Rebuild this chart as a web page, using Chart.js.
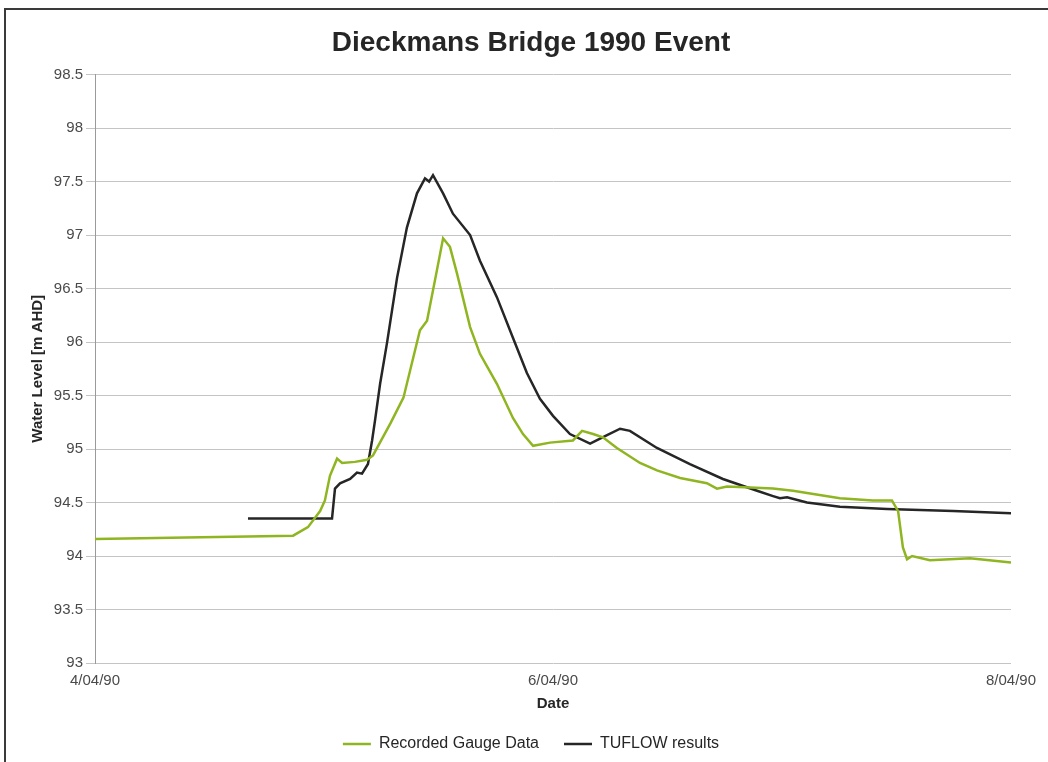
<!DOCTYPE html>
<html>
<head>
<meta charset="utf-8">
<title>Dieckmans Bridge 1990 Event</title>
<script src="https://cdn.jsdelivr.net/npm/chart.js@4/dist/chart.umd.min.js"></script>
<style>
  html, body { margin: 0; padding: 0; background: #fff; }
  #wrap { position: relative; width: 1048px; height: 762px; overflow: hidden; }
  #frame {
    position: absolute; left: 4px; top: 8px; right: -10px; bottom: -10px;
    border-left: 2px solid #3a3a3a; border-top: 2px solid #3a3a3a;
  }
  #level-chart { position: absolute; left: 0; top: 0; }
</style>
</head>
<body>
<div id="wrap">
  <div id="frame"></div>
  <canvas id="level-chart" width="1048" height="762"></canvas>
</div>
<script>
// x values are days after 4/04/90 00:00, y values are water level in m AHD
var gaugeDays = [0, 0.865, 0.930, 0.983, 1.004, 1.026, 1.057, 1.079, 1.135, 1.188, 1.214,
  1.290, 1.347, 1.419, 1.450, 1.493, 1.520, 1.550, 1.581, 1.638, 1.681, 1.755, 1.825, 1.869,
  1.913, 1.987, 2.087, 2.127, 2.175, 2.218, 2.279, 2.380, 2.454, 2.555, 2.672, 2.716, 2.760,
  2.961, 3.048, 3.253, 3.397, 3.480, 3.507, 3.528, 3.546, 3.568, 3.646, 3.821, 4.0];
var gaugeLevel = [94.16, 94.19, 94.27, 94.42, 94.52, 94.75, 94.91, 94.87, 94.88, 94.90, 94.94,
  95.24, 95.48, 96.11, 96.20, 96.67, 96.97, 96.89, 96.64, 96.14, 95.89, 95.61, 95.29, 95.14,
  95.03, 95.06, 95.08, 95.17, 95.14, 95.11, 95.01, 94.87, 94.80, 94.73, 94.68, 94.63, 94.65,
  94.63, 94.61, 94.54, 94.52, 94.52, 94.42, 94.08, 93.97, 94.00, 93.96, 93.98, 93.94];

var tuflowDays = [0.668, 1.035, 1.048, 1.070, 1.114, 1.144, 1.166, 1.192, 1.210, 1.223,
  1.245, 1.275, 1.319, 1.362, 1.406, 1.441, 1.459, 1.476, 1.520, 1.563, 1.638, 1.681,
  1.755, 1.825, 1.886, 1.943, 2.000, 2.074, 2.162, 2.236, 2.293, 2.336, 2.454, 2.598,
  2.742, 2.891, 2.961, 2.991, 3.022, 3.109, 3.253, 3.459, 3.747, 4.0];
var tuflowLevel = [94.35, 94.35, 94.63, 94.68, 94.72, 94.78, 94.77, 94.86, 95.08, 95.27,
  95.61, 95.99, 96.60, 97.07, 97.39, 97.53, 97.50, 97.56, 97.39, 97.20, 97.00, 96.76,
  96.42, 96.04, 95.71, 95.47, 95.31, 95.14, 95.05, 95.13, 95.19, 95.17, 95.01, 94.86,
  94.72, 94.61, 94.56, 94.54, 94.55, 94.50, 94.46, 94.44, 94.42, 94.40];

var dateTicks = [0, 2, 4];
var dateLabels = ['4/04/90', '6/04/90', '8/04/90'];

function toPoints(xs, ys) {
  var pts = [];
  for (var i = 0; i < xs.length; i++) {
    pts.push({ x: xs[i], y: ys[i] });
  }
  return pts;
}

Chart.defaults.font.family = '"Liberation Sans", Arial, sans-serif';
Chart.defaults.color = '#4a4a4a';

var ctx = document.getElementById('level-chart').getContext('2d');
var chart = new Chart(ctx, {
  type: 'line',
  data: {
    datasets: [
      {
        label: 'Recorded Gauge Data',
        data: toPoints(gaugeDays, gaugeLevel),
        borderColor: '#8fb521',
        backgroundColor: '#8fb521',
        borderWidth: 2.5,
        pointRadius: 0,
        tension: 0
      },
      {
        label: 'TUFLOW results',
        data: toPoints(tuflowDays, tuflowLevel),
        borderColor: '#262626',
        backgroundColor: '#262626',
        borderWidth: 2.5,
        pointRadius: 0,
        tension: 0
      }
    ]
  },
  options: {
    responsive: false,
    animation: false,
    layout: { padding: { left: 26, right: 12, top: 0, bottom: 0 } },
    plugins: {
      title: {
        display: true,
        text: 'Dieckmans Bridge 1990 Event',
        color: '#262626',
        font: { size: 28, weight: 'bold' },
        padding: { top: 26, bottom: 15 }
      },
      legend: {
        position: 'bottom',
        labels: {
          color: '#262626',
          font: { size: 16 },
          usePointStyle: true,
          pointStyle: 'line',
          pointStyleWidth: 28,
          padding: 25
        }
      },
      tooltip: { enabled: false }
    },
    scales: {
      x: {
        type: 'linear',
        min: 0,
        max: 4,
        grid: { display: false, drawTicks: false },
        border: { display: false },
        afterBuildTicks: function(scale) {
          scale.ticks = dateTicks.map(function(v) { return { value: v }; });
        },
        afterFit: function(scale) {
          scale.height = 48;
          scale.paddingRight = 37; // room for the last date label
        },
        ticks: {
          autoSkip: false,
          maxRotation: 0,
          padding: 9,
          font: { size: 15 },
          callback: function(value) {
            return dateLabels[dateTicks.indexOf(value)];
          }
        },
        title: {
          display: true,
          text: 'Date',
          color: '#262626',
          font: { size: 15, weight: 'bold' },
          padding: { top: 2, bottom: -2 }
        }
      },
      y: {
        min: 93,
        max: 98.5,
        grid: { color: '#c4c4c4', lineWidth: 1, tickLength: 9 },
        border: { display: true, color: '#9a9a9a' },
        afterFit: function(scale) { scale.width = 69; },
        ticks: {
          stepSize: 0.5,
          padding: 3,
          font: { size: 15 },
          callback: function(value) { return String(value); }
        },
        title: {
          display: true,
          text: 'Water Level [m AHD]',
          color: '#262626',
          font: { size: 15, weight: 'bold' },
          padding: { top: 3, bottom: 0 }
        }
      }
    }
  }
});
</script>
</body>
</html>
